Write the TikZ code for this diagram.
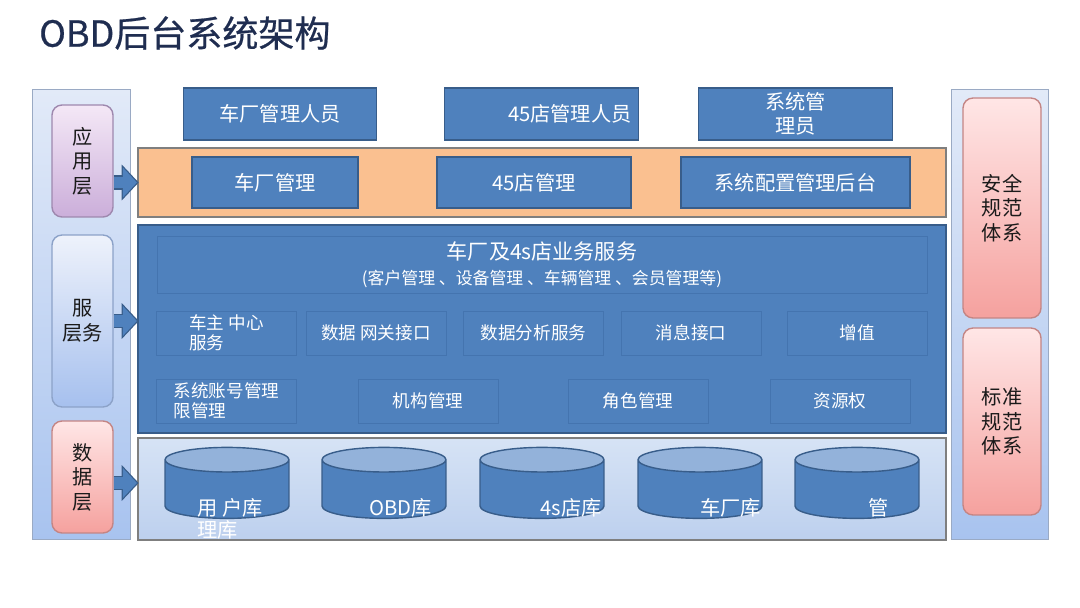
\documentclass[tikz,border=0pt]{standalone}
\usepackage{fontspec}
\setmainfont{Noto Sans CJK SC}
\newfontfamily\titlefont{Noto Sans CJK SC}[FakeBold=0.6]
\usetikzlibrary{arrows.meta,shapes.geometric}
\definecolor{Ink}{HTML}{1F2D50}
\definecolor{TagInk}{HTML}{1A1A1A}
\definecolor{BoxBlue}{HTML}{4F81BD}
\definecolor{BoxEdge}{HTML}{385D8A}
\definecolor{CellEdge}{HTML}{4474AF}
\definecolor{Peach}{HTML}{FAC090}
\definecolor{BarEdge}{HTML}{7F7F7F}
\definecolor{DataTop}{HTML}{D6E3F5}
\definecolor{DataBot}{HTML}{BDD0EE}
\definecolor{DbTop}{HTML}{93B2DA}
\definecolor{PanelTop}{HTML}{E2EAF8}
\definecolor{PanelBot}{HTML}{A8C3EF}
\definecolor{PanelEdge}{HTML}{9AAAC4}
\definecolor{LilacTop}{HTML}{F4E8F6}
\definecolor{LilacBot}{HTML}{CBAEDA}
\definecolor{LilacEdge}{HTML}{9E88AE}
\definecolor{SkyTop}{HTML}{EEF2FB}
\definecolor{SkyBot}{HTML}{A6C0EE}
\definecolor{SkyEdge}{HTML}{8CA2C8}
\definecolor{RoseTop}{HTML}{FFE6E6}
\definecolor{RoseBot}{HTML}{F5A19E}
\definecolor{RoseEdge}{HTML}{C48584}
\tikzset{
  bigtxt/.style={font=\fontsize{11.5}{14}\selectfont},
  smalltxt/.style={font=\fontsize{10}{11.5}\selectfont},
  rolebox/.style={
    draw=BoxEdge, thick, fill=BoxBlue, text=white, bigtxt, inner ysep=0pt,
    minimum width=3.87cm, minimum height=1.04cm, align=center
  },
  modbox/.style={
    draw=BoxEdge, thick, fill=BoxBlue, text=white, bigtxt, inner ysep=0pt,
    minimum height=1.02cm, align=center
  },
  cellbox/.style={
    draw=CellEdge, fill=BoxBlue, text=white, smalltxt, inner ysep=0pt,
    minimum width=2.8cm, minimum height=0.88cm, align=center
  },
  layerbar/.style={draw=BarEdge, line width=1.3pt, minimum width=16.16cm},
  sidepanel/.style={
    draw=PanelEdge, top color=PanelTop, bottom color=PanelBot,
    minimum width=1.95cm, minimum height=9cm
  },
  tagbox/.style={
    rounded corners=0.2cm, line width=0.8pt, text=TagInk, bigtxt,
    align=center, inner ysep=0pt
  },
  db/.style={
    cylinder, shape border rotate=90, aspect=2.1, draw=BoxEdge, thick,
    cylinder uses custom fill, cylinder body fill=BoxBlue,
    cylinder end fill=DbTop, minimum width=2.48cm, minimum height=1.42cm
  },
  dbname/.style={
    text=white, font=\fontsize{11.5}{12.6}\selectfont, align=left,
    inner sep=0pt, anchor=north west
  },
  blockflow/.style={
    line width=0.24cm, draw=BoxBlue, -{Triangle[length=0.28cm,width=0.58cm]},
    preaction={draw=BoxEdge, line width=0.29cm, shorten >=-0.035cm,
      -{Triangle[length=0.34cm,width=0.7cm]}}
  }
}
\begin{document}
\begin{tikzpicture}[x=0.02cm,y=-0.02cm]
  \path[use as bounding box,fill=white] (0,0) rectangle (1080,608);
  \node[text=Ink,font=\fontsize{20.5}{25}\titlefont,anchor=west] (title) at (33,33) {OBD后台系统架构};

  \node[sidepanel] (lpanel) at (81.5,314.5) {};
  \node[sidepanel] (rpanel) at (1000,314.5) {};
  \node[tagbox,draw=LilacEdge,top color=LilacTop,bottom color=LilacBot,
    minimum width=1.22cm,minimum height=2.24cm] (lapp) at (82.5,161) {应\\用\\层};
  \node[tagbox,draw=SkyEdge,top color=SkyTop,bottom color=SkyBot,
    minimum width=1.22cm,minimum height=3.44cm] (lsvc) at (82.5,321) {服\\层务};
  \node[tagbox,draw=RoseEdge,top color=RoseTop,bottom color=RoseBot,
    minimum width=1.22cm,minimum height=2.24cm] (ldata) at (82.5,477) {数\\据\\层};
  \node[tagbox,draw=RoseEdge,top color=RoseTop,bottom color=RoseBot,
    minimum width=1.56cm,minimum height=4.4cm] (rsafe) at (1002,208) {安全\\规范\\体系};
  \node[tagbox,draw=RoseEdge,top color=RoseTop,bottom color=RoseBot,
    minimum width=1.56cm,minimum height=3.74cm] (rnorm) at (1002,421.5) {标准\\规范\\体系};

  \node[rolebox] (rfactory) at (280,114) {车厂管理人员};
  \node[rolebox,text width=3.6cm,align=right] (rshop) at (541.5,114) {45店管理人员};
  \node[rolebox] (radmin) at (795.5,114) {系统管\\理员};

  \node[layerbar,fill=Peach,minimum height=1.38cm] (appbar) at (542,182.5) {};
  \node[modbox,minimum width=3.32cm] (mfactory) at (275,182.5) {车厂管理};
  \node[modbox,minimum width=3.88cm] (mshop) at (534,182.5) {45店管理};
  \node[modbox,minimum width=4.58cm] (mconfig) at (795.5,182.5) {系统配置管理后台};

  \node[layerbar,draw=BoxEdge,fill=BoxBlue,minimum height=4.16cm] (svcbar) at (542,329) {};
  \node[cellbox,minimum width=15.4cm,minimum height=1.14cm] (svchead) at (542,264.5)
    {{\fontsize{12}{14}\selectfont 车厂及4s店业务服务}\\[3pt]
     {\fontsize{9.6}{11}\selectfont (客户管理 、设备管理 、车辆管理 、会员管理等)}};
  \node[cellbox,align=left] (sowner) at (226.5,333) {车主 中心\\服务};
  \node[cellbox] (sgate) at (376,333) {数据 网关接口};
  \node[cellbox] (sstat) at (533.5,333) {数据分析服务};
  \node[cellbox] (smsg) at (691,333) {消息接口};
  \node[cellbox] (svalue) at (857,333) {增值};
  \node[cellbox,align=left] (saccount) at (226.5,401) {系统账号管理\\限管理};
  \node[cellbox] (sorg) at (428,401) {机构管理};
  \node[cellbox] (srole) at (638,401) {角色管理};
  \node[cellbox] (sres) at (840,401) {资源权};

  \node[layerbar,top color=DataTop,bottom color=DataBot,minimum height=2.04cm] (databar) at (542,489) {};
  \node[db] (dbuser) at (227,492) {};
  \node[db] (dbobd) at (384,492) {};
  \node[db] (dbshop) at (542,492) {};
  \node[db] (dbfactory) at (700,492) {};
  \node[db] (dbmgr) at (857,492) {};
  \node[dbname] (nuser) at (197,498) {用 户库\\理库};
  \node[dbname] (nobd) at (369,498) {OBD库};
  \node[dbname] (nshop) at (540,498) {4s店库};
  \node[dbname] (nfactory) at (700,498) {车厂库};
  \node[dbname] (nmgr) at (868,498) {管};

  \draw[blockflow] (lapp.east |- appbar.west) -- (appbar.west);
  \draw[blockflow] (lsvc.east) -- (lsvc.east -| svcbar.west);
  \draw[blockflow] (ldata.east |- 0,483) -- (svcbar.west |- 0,483);
\end{tikzpicture}
\end{document}
